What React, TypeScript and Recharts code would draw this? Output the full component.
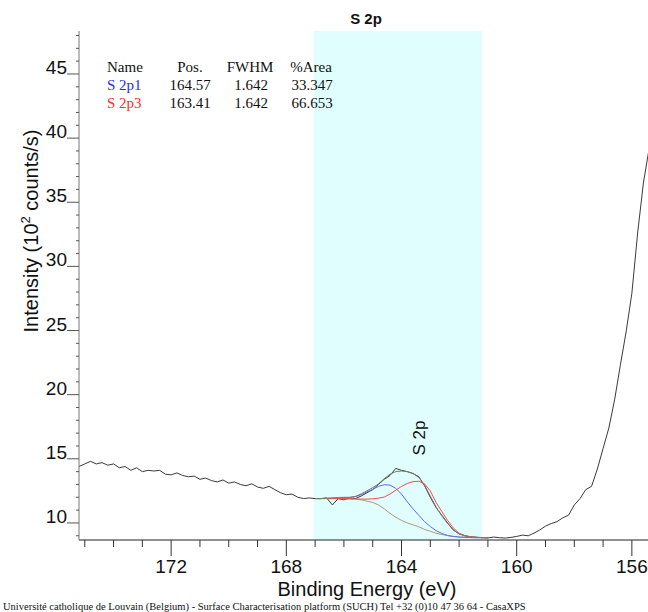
import { Line, LineChart, ReferenceArea, XAxis, YAxis } from "recharts";

// raw spectrum (binding energy, eV) / intensity (10^2 counts/s)
const ENERGY = [
  175.2, 175.0, 174.8, 174.6, 174.4, 174.2, 174.0, 173.8, 173.6, 173.4,
  173.2, 173.0, 172.8, 172.6, 172.4, 172.2, 172.0, 171.8, 171.6, 171.4,
  171.2, 171.0, 170.8, 170.6, 170.4, 170.2, 170.0, 169.8, 169.6, 169.4,
  169.2, 169.0, 168.8, 168.6, 168.4, 168.2, 168.0, 167.8, 167.6, 167.4,
  167.2, 167.0, 166.8, 166.6, 166.4, 166.2, 166.0, 165.8, 165.6, 165.4,
  165.2, 165.0, 164.8, 164.6, 164.4, 164.2, 164.0, 163.8, 163.6, 163.4,
  163.2, 163.0, 162.8, 162.6, 162.4, 162.2, 162.0, 161.8, 161.6, 161.4,
  161.2, 161.0, 160.8, 160.6, 160.4, 160.2, 160.0, 159.8, 159.6, 159.4,
  159.2, 159.0, 158.8, 158.6, 158.4, 158.2, 158.0, 157.8, 157.6, 157.4,
  157.2, 157.0, 156.8, 156.6, 156.4, 156.2, 156.0, 155.8, 155.6, 155.4,
];
const COUNTS = [
  14.4, 14.6, 14.8, 14.6, 14.7, 14.5, 14.6, 14.3, 14.4, 14.1,
  14.3, 14.0, 14.1, 14.05, 14.1, 13.8, 13.75, 13.9, 13.7, 13.6,
  13.65, 13.4, 13.5, 13.3, 13.2, 13.35, 13.1, 13.2, 13.0, 12.9,
  13.05, 12.8, 12.7, 12.85, 12.6, 12.35, 12.2, 12.25, 12.0, 11.9,
  11.95, 11.9, 11.9, 11.95, 11.4, 11.9, 11.8, 11.95, 11.9, 12.1,
  12.35, 12.6, 13.0, 13.4, 13.7, 14.25, 14.1, 14.0, 13.85, 13.6,
  12.9, 12.0, 11.2, 10.6, 10.0, 9.45, 9.15, 9.0, 8.92, 8.88,
  8.85, 8.83, 8.9, 8.85, 8.82, 8.87, 8.95, 9.05, 9.0, 9.2,
  9.45, 9.75, 9.95, 10.1, 10.4, 10.6, 11.4, 11.9, 12.6, 12.85,
  14.2, 15.8, 17.4, 19.6, 22.3, 24.9, 27.9, 32.6, 36.5, 39.2,
];

// fit region
const FIT_ENERGY = [
  167.0, 166.8, 166.6, 166.4, 166.2, 166.0, 165.8, 165.6, 165.4, 165.2,
  165.0, 164.8, 164.6, 164.4, 164.2, 164.0, 163.8, 163.6, 163.4, 163.2,
  163.0, 162.8, 162.6, 162.4, 162.2, 162.0, 161.8, 161.6, 161.4, 161.2,
  161.0,
];
const BACKGROUND = [
  11.9, 11.9, 11.9, 11.9, 11.9, 11.88, 11.87, 11.85, 11.8, 11.7,
  11.6, 11.4, 11.1, 10.75, 10.45, 10.2, 10.0, 9.85, 9.7, 9.5,
  9.35, 9.2, 9.1, 9.02, 8.95, 8.9, 8.88, 8.86, 8.85, 8.85,
  8.85,
];
const S2P1 = [
  11.9, 11.9, 11.92, 11.93, 11.94, 11.96, 11.98, 12.05, 12.2, 12.42,
  12.62, 12.85, 12.98, 12.95, 12.7, 12.25, 11.65, 11.1, 10.6, 10.1,
  9.72, 9.4, 9.18, 9.02, 8.94, 8.9, 8.88, 8.86, 8.85, 8.85,
  8.85,
];
const S2P3 = [
  11.9, 11.9, 11.9, 11.9, 11.9, 11.9, 11.88, 11.87, 11.86, 11.86,
  11.88, 11.93, 12.02, 12.25, 12.55, 12.85, 13.08, 13.22, 13.25, 13.05,
  12.5, 11.6, 10.9, 10.2, 9.6, 9.2, 9.0, 8.92, 8.88, 8.86,
  8.85,
];
const ENVELOPE = [
  11.9, 11.9, 11.92, 11.95, 11.98, 12.0, 12.0, 12.07, 12.26, 12.5,
  12.75, 13.05, 13.45, 13.8, 14.0, 14.05, 14.0, 13.85, 13.55, 12.95,
  12.1, 11.25, 10.55, 9.95, 9.45, 9.15, 9.0, 8.92, 8.88, 8.86,
  8.85,
];

const X_TICKS = [
  175, 174, 173, 172, 171, 170, 169, 168, 167, 166, 165, 164, 163, 162, 161,
  160, 159, 158, 157, 156,
];
const X_LABELS = [172, 168, 164, 160, 156];
const Y_TICKS = [
  9, 10, 11, 12, 13, 14, 15, 16, 17, 18, 19, 20, 21, 22, 23, 24, 25, 26, 27,
  28, 29, 30, 31, 32, 33, 34, 35, 36, 37, 38, 39, 40, 41, 42, 43, 44, 45, 46,
  47, 48,
];
const Y_LABELS = [10, 15, 20, 25, 30, 35, 40, 45];

const TABLE_HEAD = ["Name", "Pos.", "FWHM", "%Area"];
const TABLE_ROWS = [
  ["S 2p1", "164.57", "1.642", "33.347"],
  ["S 2p3", "163.41", "1.642", "66.653"],
];
const ROW_COLORS = ["#2a2aff", "#ff2a2a"];

const SANS = "'Liberation Sans', Arial, sans-serif";
const SERIF = "'Liberation Serif', 'Times New Roman', serif";

const raw = ENERGY.map((e, i) => ({ e, v: COUNTS[i] }));
const fit = (vals: number[]) => FIT_ENERGY.map((e, i) => ({ e, v: vals[i] }));

function XTick({ x, y, payload }: any) {
  const major = X_LABELS.includes(payload.value);
  return (
    <g>
      <line x1={x} x2={x} y1={y} y2={y + (major ? 16 : 7)} stroke="#333" />
      {major && (
        <text x={x} y={y + 33} textAnchor="middle" fontSize={19} fontFamily={SANS} fill="#111">
          {payload.value}
        </text>
      )}
    </g>
  );
}

function YTick({ x, y, payload }: any) {
  const major = Y_LABELS.includes(payload.value);
  return (
    <g>
      <line x1={x - (major ? 12 : 3)} x2={x} y1={y} y2={y} stroke="#555" />
      {major && (
        <text x={x - 12} y={y} textAnchor="end" fontSize={19} fontFamily={SANS} fill="#111">
          {payload.value}
        </text>
      )}
    </g>
  );
}

export default function App() {
  return (
    <div style={{ position: "absolute", left: 0, top: 0, width: 648, height: 612, background: "#fff" }}>
      <LineChart width={648} height={612} margin={{ top: 31, right: 0, bottom: 0, left: 0 }}>
        <XAxis
          type="number"
          dataKey="e"
          domain={[155.44, 175.2]}
          reversed
          allowDataOverflow
          ticks={X_TICKS}
          interval={0}
          tickSize={0}
          tickMargin={0}
          tick={<XTick />}
          height={72}
          stroke="#222"
        />
        <XAxis
          xAxisId="top"
          orientation="top"
          type="number"
          dataKey="e"
          domain={[155.44, 175.2]}
          reversed
          allowDataOverflow
          tick={false}
          tickLine={false}
          height={0}
          stroke="#222"
        />
        <YAxis
          type="number"
          domain={[8.67, 48.35]}
          allowDataOverflow
          ticks={Y_TICKS}
          interval={0}
          tickSize={0}
          tickMargin={0}
          tick={<YTick />}
          width={79}
          stroke="#777"
        />
        <ReferenceArea x1={167.05} x2={161.2} fill="#e0fefe" fillOpacity={1} stroke="none" ifOverflow="hidden" />
        <Line data={raw} dataKey="v" stroke="#3a3a3a" strokeWidth={1} dot={false} isAnimationActive={false} />
        <Line data={fit(BACKGROUND)} dataKey="v" stroke="#b09a72" strokeWidth={1} dot={false} isAnimationActive={false} />
        <Line data={fit(S2P1)} dataKey="v" stroke="#6464ff" strokeWidth={1} dot={false} isAnimationActive={false} />
        <Line data={fit(S2P3)} dataKey="v" stroke="#ff4848" strokeWidth={1} dot={false} isAnimationActive={false} />
        <Line data={fit(ENVELOPE)} dataKey="v" stroke="#7c7c6c" strokeWidth={1} dot={false} isAnimationActive={false} />
      </LineChart>
      <svg width={648} height={612} style={{ position: "absolute", left: 0, top: 0, pointerEvents: "none" }}>
        <text x={366} y={24} textAnchor="middle" fontSize={15} fontWeight="bold" fontFamily={SANS} fill="#111">
          S 2p
        </text>
        <text
          transform="translate(38,231) rotate(-90)"
          textAnchor="middle"
          fontSize={20}
          fontFamily={SANS}
          fill="#111"
        >
          Intensity (10
          <tspan dy={-8} fontSize={13}>2</tspan>
          <tspan dy={8}> counts/s)</tspan>
        </text>
        <text x={367} y={596} textAnchor="middle" fontSize={20} fontFamily={SANS} fill="#111">
          Binding Energy (eV)
        </text>
        <text transform="translate(425,438) rotate(-90)" textAnchor="middle" fontSize={17} fontFamily={SANS} fill="#111">
          S 2p
        </text>
        <g fontFamily={SERIF} fontSize={15}>
          <text x={107} y={72} fill="#111">{TABLE_HEAD[0]}</text>
          <text x={190} y={72} textAnchor="middle" fill="#111">{TABLE_HEAD[1]}</text>
          <text x={250} y={72} textAnchor="middle" fill="#111">{TABLE_HEAD[2]}</text>
          <text x={311} y={72} textAnchor="middle" fill="#111">{TABLE_HEAD[3]}</text>
          {TABLE_ROWS.map((r, i) => (
            <g key={i}>
              <text x={107} y={90 + i * 18} fill={ROW_COLORS[i]}>{r[0]}</text>
              <text x={190} y={90 + i * 18} textAnchor="middle" fill="#111">{r[1]}</text>
              <text x={251} y={90 + i * 18} textAnchor="middle" fill="#111">{r[2]}</text>
              <text x={312} y={90 + i * 18} textAnchor="middle" fill="#111">{r[3]}</text>
            </g>
          ))}
        </g>
        <text x={3} y={610} fontSize={10.5} fontFamily={SERIF} fill="#111">
          Université catholique de Louvain (Belgium) - Surface Characterisation platform (SUCH) Tel +32 (0)10 47 36 64 - CasaXPS
        </text>
      </svg>
    </div>
  );
}
